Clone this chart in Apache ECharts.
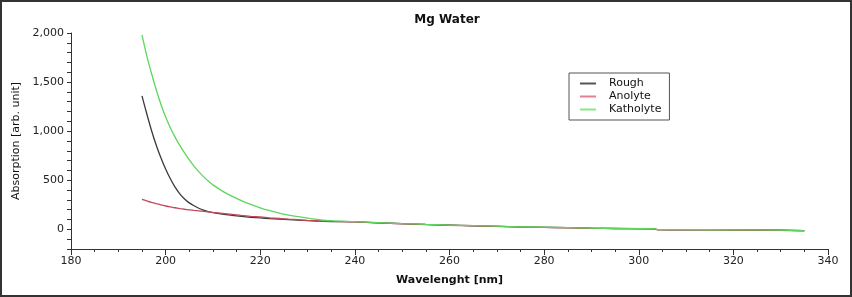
<!DOCTYPE html>
<html>
<head>
<meta charset="utf-8">
<script src="https://cdn.jsdelivr.net/npm/echarts@6/dist/echarts.min.js"></script>
<style>
  html, body { margin: 0; padding: 0; background: #fff; }
  #main { width: 852px; height: 297px; }
</style>
</head>
<body>
<div id="main"></div>
<script>
var chartDom = document.getElementById('main');
var myChart = echarts.init(chartDom);
var option;

// wavelength [nm]
var wavelength = [195, 196, 197, 198, 199, 200, 201, 202, 203, 204, 205, 206, 207, 208, 209, 210,
    212, 214, 216, 218, 220, 222, 224, 226, 228, 230, 232, 235, 240, 245, 250, 255, 260, 265,
    270, 275, 280, 285, 290, 295, 300, 303, 304, 310, 320, 330, 335];

var rough = [1360, 1180, 1010, 860, 730, 615, 515, 430, 362, 310, 270, 240, 215, 195, 180, 170,
    155, 143, 132, 123, 116, 110, 104, 99, 94, 89, 85, 80, 76, 67, 58, 50, 43, 37,
    31, 25, 21, 17, 12, 9, 7, 6, -3, -4, -6, -8, -13];

var anolyte = [306, 290, 275, 262, 250, 238, 228, 220, 212, 205, 199, 193, 188, 183, 178, 172,
    162, 152, 142, 133, 126, 118, 111, 104, 98, 92, 87, 81, 76, 66, 57, 49, 42, 36,
    30, 24, 20, 16, 11, 8, 6, 5, -4, -5, -7, -9, -14];

var katholyte = [1980, 1770, 1590, 1425, 1275, 1145, 1035, 940, 855, 778, 708, 645, 588, 537, 492, 453,
    390, 338, 293, 254, 220, 191, 166, 146, 129, 114, 102, 88, 78, 68, 59, 51, 44, 38,
    32, 26, 22, 18, 13, 10, 8, 7, -2, -3, -5, -7, -12];

var yLabels = [0, 500, 1000, 1500, 2000];

function pairs(ys) {
    return wavelength.map(function (x, i) { return [x, ys[i]]; });
}

var fontFam = 'DejaVu Sans';

option = {
    animation: false,
    backgroundColor: '#fff',
    title: {
        text: 'Mg Water',
        left: 442,
        textAlign: 'center',
        top: 9,
        textStyle: { fontFamily: fontFam, fontSize: 12, fontWeight: 'bold', color: '#111' }
    },
    grid: { left: 71, right: 24, top: 33, bottom: 48 },
    legend: {
        orient: 'vertical',
        left: 569,
        top: 73,
        padding: [4, 8, 4, 11],
        itemGap: 0,
        itemWidth: 16,
        itemHeight: 2,
        icon: 'rect',
        borderColor: '#555',
        borderWidth: 1,
        backgroundColor: '#fff',
        textStyle: { fontFamily: fontFam, fontSize: 11, color: '#111', lineHeight: 13, padding: [0, 0, 0, 8] },
        data: [
            { name: 'Rough', itemStyle: { color: '#555' } },
            { name: 'Anolyte', itemStyle: { color: '#e08090' } },
            { name: 'Katholyte', itemStyle: { color: '#88e888' } }
        ]
    },
    xAxis: {
        type: 'value',
        min: 180,
        max: 340,
        interval: 20,
        name: 'Wavelenght [nm]',
        nameLocation: 'middle',
        nameGap: 26,
        nameTextStyle: { fontFamily: fontFam, fontSize: 11, fontWeight: 'bold', color: '#111' },
        axisLine: { show: true, onZero: false, lineStyle: { color: '#333', width: 1 } },
        axisTick: { show: true, length: 6, lineStyle: { color: '#333' } },
        minorTick: { show: true, splitNumber: 4, length: 3, lineStyle: { color: '#333' } },
        axisLabel: { fontFamily: fontFam, fontSize: 11, color: '#222', margin: 7 },
        splitLine: { show: false }
    },
    yAxis: {
        type: 'value',
        min: -200,
        max: 2000,
        interval: 100,
        name: 'Absorption [arb. unit]',
        nameLocation: 'middle',
        nameGap: 46,
        nameTextStyle: { fontFamily: fontFam, fontSize: 11, color: '#111' },
        axisLine: { show: true, onZero: false, lineStyle: { color: '#333', width: 1 } },
        axisTick: { show: true, length: 4, lineStyle: { color: '#333' } },
        axisLabel: {
            fontFamily: fontFam, fontSize: 11, color: '#222', margin: 7,
            formatter: function (v) {
                if (yLabels.indexOf(v) < 0) return '';
                return v.toLocaleString('en-US');
            }
        },
        splitLine: { show: false }
    },
    graphic: [
        {
            type: 'rect',
            shape: { x: 1, y: 1, width: 850, height: 295 },
            style: { fill: 'none', stroke: '#333', lineWidth: 2 },
            silent: true
        }
    ],
    series: [
        {
            name: 'Rough', type: 'line', showSymbol: false, symbol: 'none', smooth: 0.3,
            lineStyle: { color: '#3a3a3a', width: 1.3 }, itemStyle: { color: '#555' },
            data: pairs(rough)
        },
        {
            name: 'Anolyte', type: 'line', showSymbol: false, symbol: 'none', smooth: 0.3,
            lineStyle: { color: '#c04858', width: 1.3 }, itemStyle: { color: '#e08090' },
            data: pairs(anolyte)
        },
        {
            name: 'Katholyte', type: 'line', showSymbol: false, symbol: 'none', smooth: 0.3,
            lineStyle: { color: '#5cd65c', width: 1.3 }, itemStyle: { color: '#88e888' },
            data: pairs(katholyte)
        }
    ]
};

option && myChart.setOption(option);
</script>
</body>
</html>
